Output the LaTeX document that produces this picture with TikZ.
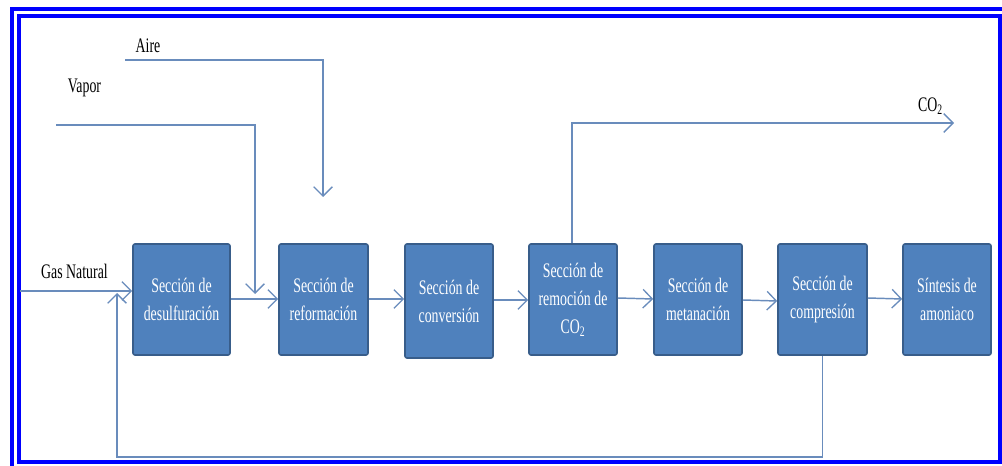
\documentclass[tikz,border=0pt]{standalone}
\usepackage{fontspec}
\setmainfont{Liberation Serif}
\newfontfamily\cond[FakeStretch=0.67]{Liberation Serif}
\usetikzlibrary{arrows.meta}

\definecolor{boxfill}{RGB}{79,129,189}
\definecolor{boxedge}{RGB}{56,93,138}
\definecolor{flowc}{RGB}{105,140,188}
\definecolor{framec}{RGB}{0,0,255}

\tikzset{
  sect/.style={draw=boxedge, fill=boxfill, line width=1.2pt, rounded corners=1.5pt,
    text=white, align=center, inner sep=0pt, minimum height=83.25pt,
    font=\cond\fontsize{15.5}{21}\selectfont},
  flow/.style={draw=flowc, line width=1.1pt,
    -{Straight Barb[length=7pt, width=14pt, line width=1pt]}},
  lbl/.style={text=black, inner sep=0pt, anchor=base,
    font=\cond\fontsize{15.5}{21}\selectfont},
  frame/.style={draw=framec, line width=3pt}
}

\begin{document}
\begin{tikzpicture}[x=0.75pt, y=-0.75pt]
  \useasboundingbox (0,0) rectangle (1002,466);

  % double blue border
  \draw[frame] (12,466) -- (12,9) -- (1002,9);
  \draw[frame] (19,16) rectangle (1000,462);

  % process sections
  \node[sect, minimum width=72.75pt] (b1) at (181.5,299.5) {Sección de\\desulfuración};
  \node[sect, minimum width=66.75pt] (b2) at (323.5,299.5) {Sección de\\reformación};
  \node[sect, minimum width=66pt, minimum height=85.5pt] (b3) at (449,301) {Sección de\\conversión};
  \node[sect, minimum width=66pt] (b4) at (573,299.5) {Sección de\\remoción de\\CO\textsubscript{2}};
  \node[sect, minimum width=66pt] (b5) at (698,299.5) {Sección de\\metanación};
  \node[sect, minimum width=66.75pt] (b6) at (822.5,299.5) {Sección de\\compresión};
  \node[sect, minimum width=66pt] (b7) at (947,299.5) {Síntesis de\\amoniaco};

  % stream labels
  \node[lbl] (aire) at (148,53) {Aire};
  \node[lbl] (vapor) at (84.5,93) {Vapor};
  \node[lbl] (gas) at (74.5,279) {Gas Natural};
  \node[lbl] (co2) at (930.5,112) {CO\textsubscript{2}};

  % stream end points and bends
  \coordinate (gn0) at (20,291);
  \coordinate (v0) at (56,125);
  \coordinate (v1) at (255,294);
  \coordinate (a0) at (125,60);
  \coordinate (a1) at (323,197);
  \coordinate (c1) at (954,123);
  \coordinate (r1) at (822.5,457);
  \coordinate (r2) at (117,293);

  % feeds
  \draw[flow] (gn0) -- (b1.west |- gn0);
  \draw[flow] (v0) -| (v1);
  \draw[flow] (a0) -| (a1);

  % main train
  \draw[flow] (b1.east |- 0,299) -- (b2.west |- 0,299);
  \draw[flow] (b2.east |- 0,299) -- (b3.west |- 0,299);
  \draw[flow] (b3.east |- 0,300) -- (b4.west |- 0,300);
  \draw[flow] (b4.east |- 0,298) -- (b5.west |- 0,299);
  \draw[flow] (b5.east |- 0,300) -- (b6.west |- 0,301);
  \draw[flow] (b6.east |- 0,298) -- (b7.west |- 0,299);

  % CO2 vent
  \draw[flow] (b4.north -| 572,0) |- (c1);

  % recycle
  \draw[flow] (b6.south) -- (r1) -| (r2);
\end{tikzpicture}
\end{document}
